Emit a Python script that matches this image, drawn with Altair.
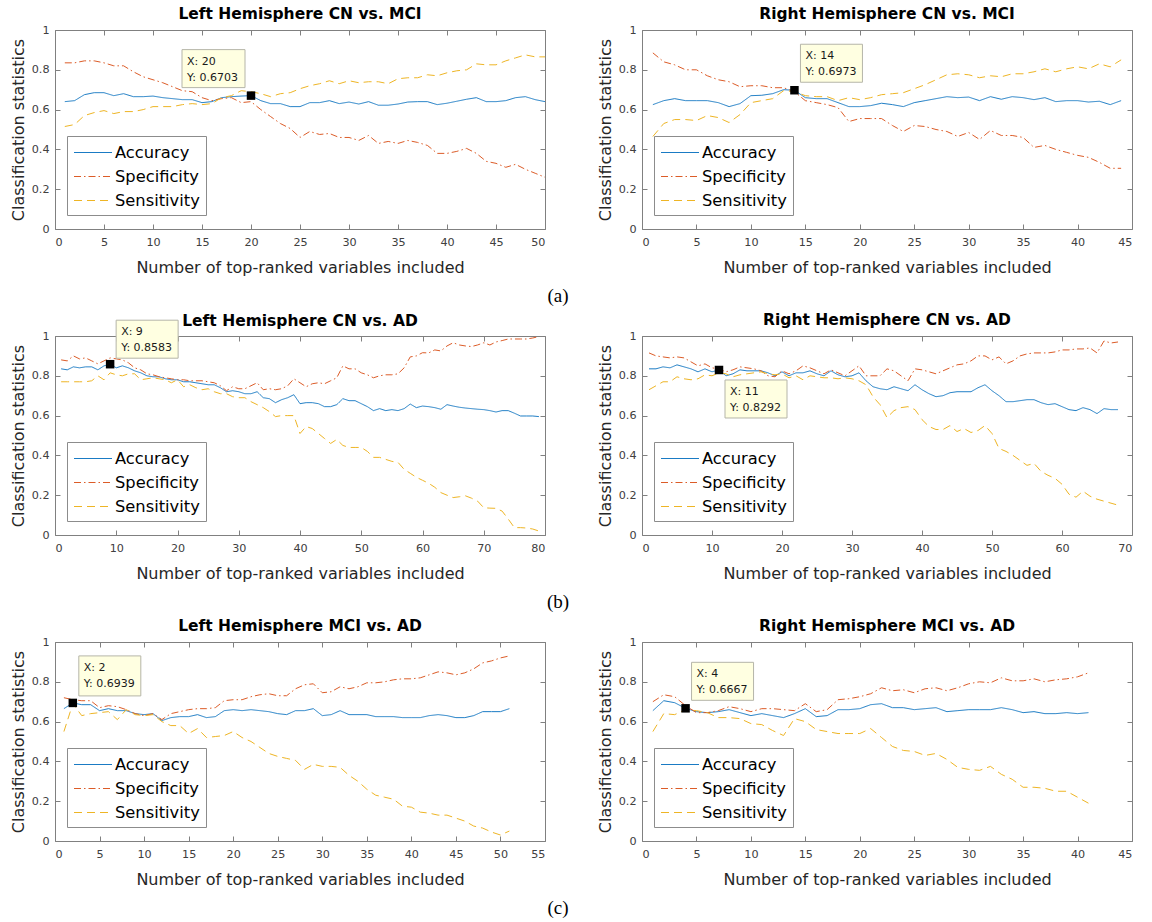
import altair as alt
import pandas as pd

SERIES = ["Accuracy", "Specificity", "Sensitivity"]
COLORS = ["#1a7bc4", "#dc5c28", "#eeb525"]
DASHES = [[1, 0], [7, 3, 1.5, 3], [8, 5]]
YTICKS = [0, 0.2, 0.4, 0.6, 0.8, 1]
XLABEL = "Number of top-ranked variables included"
YLABEL = "Classification statistics"
FONT = "DejaVu Sans"

TITLES = ["Left Hemisphere CN vs. MCI", "Right Hemisphere CN vs. MCI",
          "Left Hemisphere CN vs. AD", "Right Hemisphere CN vs. AD",
          "Left Hemisphere MCI vs. AD", "Right Hemisphere MCI vs. AD"]
CAPTIONS = ["(a)", None, "(b)", None, "(c)", None]
XMAX = [50, 45, 80, 70, 55, 45]
XTICKS = [list(range(0, 51, 5)), list(range(0, 46, 5)), list(range(0, 81, 10)),
          list(range(0, 71, 10)), list(range(0, 56, 5)), list(range(0, 46, 5))]
TIP_X = [20, 14, 9, 11, 2, 4]
TIP_Y = [0.6703, 0.6973, 0.8583, 0.8292, 0.6939, 0.6667]

# ---- (a) left: CN vs MCI, left hemisphere
acc_aL = [0.640, 0.645, 0.675, 0.685, 0.685, 0.670, 0.680, 0.665, 0.665, 0.668,
          0.660, 0.655, 0.650, 0.650, 0.635, 0.640, 0.660, 0.665, 0.668, 0.6703,
          0.645, 0.630, 0.630, 0.615, 0.615, 0.635, 0.635, 0.645, 0.630, 0.638,
          0.628, 0.640, 0.622, 0.622, 0.628, 0.638, 0.640, 0.640, 0.625, 0.632,
          0.642, 0.652, 0.660, 0.640, 0.640, 0.645, 0.660, 0.665, 0.650, 0.640]
spe_aL = [0.835, 0.835, 0.845, 0.845, 0.835, 0.820, 0.820, 0.790, 0.765, 0.750,
          0.735, 0.715, 0.695, 0.690, 0.660, 0.645, 0.655, 0.660, 0.635, 0.640,
          0.600, 0.565, 0.530, 0.505, 0.460, 0.490, 0.475, 0.480, 0.460, 0.460,
          0.445, 0.470, 0.430, 0.440, 0.430, 0.445, 0.435, 0.420, 0.380, 0.380,
          0.390, 0.405, 0.380, 0.340, 0.330, 0.310, 0.325, 0.300, 0.280, 0.260]
sen_aL = [0.515, 0.525, 0.570, 0.585, 0.595, 0.580, 0.590, 0.590, 0.600, 0.615,
          0.615, 0.615, 0.625, 0.630, 0.625, 0.630, 0.660, 0.670, 0.695, 0.690,
          0.680, 0.665, 0.680, 0.685, 0.705, 0.720, 0.730, 0.745, 0.730, 0.745,
          0.735, 0.740, 0.740, 0.730, 0.755, 0.760, 0.760, 0.775, 0.770, 0.785,
          0.795, 0.800, 0.830, 0.825, 0.825, 0.845, 0.860, 0.875, 0.865, 0.865]

# ---- (a) right
acc_aR = [0.625, 0.645, 0.655, 0.645, 0.645, 0.645, 0.635, 0.615, 0.630, 0.670,
          0.672, 0.680, 0.700, 0.6973, 0.660, 0.655, 0.655, 0.635, 0.615, 0.615,
          0.620, 0.632, 0.625, 0.615, 0.635, 0.645, 0.655, 0.665, 0.660, 0.663,
          0.645, 0.665, 0.652, 0.665, 0.660, 0.650, 0.660, 0.640, 0.645, 0.645,
          0.638, 0.642, 0.625, 0.645]
spe_aR = [0.885, 0.840, 0.825, 0.800, 0.800, 0.770, 0.750, 0.740, 0.715, 0.720,
          0.720, 0.710, 0.710, 0.690, 0.645, 0.635, 0.625, 0.610, 0.540, 0.555,
          0.555, 0.555, 0.520, 0.490, 0.520, 0.515, 0.500, 0.490, 0.465, 0.485,
          0.450, 0.495, 0.470, 0.470, 0.460, 0.410, 0.420, 0.400, 0.385, 0.370,
          0.360, 0.335, 0.305, 0.305]
sen_aR = [0.465, 0.530, 0.550, 0.550, 0.545, 0.570, 0.560, 0.535, 0.575, 0.635,
          0.645, 0.655, 0.695, 0.690, 0.670, 0.665, 0.665, 0.645, 0.660, 0.650,
          0.660, 0.675, 0.680, 0.685, 0.705, 0.725, 0.750, 0.775, 0.780, 0.775,
          0.760, 0.770, 0.765, 0.780, 0.780, 0.790, 0.805, 0.790, 0.805, 0.815,
          0.805, 0.830, 0.815, 0.850]

# ---- (b) left
acc_bL = [0.835, 0.830, 0.845, 0.840, 0.845, 0.845, 0.830, 0.850, 0.8583, 0.840,
          0.850, 0.840, 0.825, 0.815, 0.800, 0.795, 0.795, 0.785, 0.780, 0.780,
          0.770, 0.770, 0.765, 0.760, 0.755, 0.755, 0.740, 0.720, 0.725, 0.720,
          0.710, 0.710, 0.720, 0.690, 0.685, 0.665, 0.680, 0.690, 0.705, 0.660,
          0.665, 0.665, 0.660, 0.645, 0.645, 0.655, 0.685, 0.675, 0.675, 0.660,
          0.645, 0.625, 0.635, 0.625, 0.630, 0.625, 0.635, 0.658, 0.640, 0.648,
          0.645, 0.640, 0.632, 0.655, 0.648, 0.642, 0.638, 0.635, 0.632, 0.630,
          0.625, 0.618, 0.625, 0.625, 0.612, 0.598, 0.598, 0.598, 0.595]
spe_bL = [0.880, 0.875, 0.900, 0.885, 0.890, 0.875, 0.860, 0.875, 0.890, 0.885,
          0.880, 0.865, 0.840, 0.830, 0.810, 0.805, 0.795, 0.790, 0.785, 0.780,
          0.780, 0.775, 0.775, 0.775, 0.770, 0.765, 0.750, 0.725, 0.745, 0.735,
          0.735, 0.750, 0.765, 0.730, 0.735, 0.730, 0.735, 0.750, 0.785, 0.765,
          0.745, 0.760, 0.765, 0.760, 0.775, 0.790, 0.850, 0.835, 0.835, 0.815,
          0.805, 0.790, 0.800, 0.805, 0.805, 0.810, 0.840, 0.895, 0.900, 0.916,
          0.915, 0.930, 0.925, 0.950, 0.966, 0.955, 0.950, 0.947, 0.955, 0.966,
          0.955, 0.970, 0.977, 0.985, 0.985, 0.985, 0.985, 0.990, 0.997]
sen_bL = [0.770, 0.770, 0.770, 0.770, 0.770, 0.775, 0.800, 0.780, 0.815, 0.805,
          0.800, 0.810, 0.810, 0.780, 0.785, 0.790, 0.785, 0.780, 0.765, 0.780,
          0.745, 0.755, 0.740, 0.730, 0.735, 0.720, 0.710, 0.710, 0.695, 0.690,
          0.690, 0.670, 0.655, 0.640, 0.620, 0.595, 0.600, 0.600, 0.600, 0.510,
          0.545, 0.535, 0.510, 0.485, 0.460, 0.480, 0.450, 0.440, 0.440, 0.440,
          0.420, 0.390, 0.390, 0.380, 0.370, 0.365, 0.330, 0.310, 0.290, 0.275,
          0.260, 0.240, 0.213, 0.200, 0.188, 0.192, 0.197, 0.185, 0.170, 0.137,
          0.135, 0.134, 0.120, 0.080, 0.037, 0.037, 0.035, 0.030, 0.020]

# ---- (b) right
acc_bR = [0.835, 0.835, 0.845, 0.840, 0.855, 0.845, 0.835, 0.820, 0.835, 0.820,
          0.8292, 0.800, 0.810, 0.830, 0.825, 0.825, 0.825, 0.815, 0.800, 0.820,
          0.800, 0.815, 0.815, 0.825, 0.810, 0.800, 0.825, 0.805, 0.795, 0.800,
          0.815, 0.775, 0.745, 0.735, 0.730, 0.745, 0.735, 0.725, 0.755, 0.730,
          0.710, 0.695, 0.700, 0.715, 0.720, 0.720, 0.720, 0.740, 0.755, 0.725,
          0.700, 0.670, 0.670, 0.675, 0.680, 0.680, 0.665, 0.655, 0.660, 0.645,
          0.630, 0.625, 0.640, 0.630, 0.610, 0.635, 0.630, 0.630]
spe_bR = [0.915, 0.900, 0.895, 0.890, 0.895, 0.890, 0.870, 0.850, 0.860, 0.840,
          0.835, 0.820, 0.830, 0.845, 0.840, 0.835, 0.825, 0.800, 0.795, 0.825,
          0.810, 0.825, 0.850, 0.840, 0.825, 0.810, 0.830, 0.815, 0.800, 0.825,
          0.850, 0.800, 0.800, 0.800, 0.835, 0.825, 0.800, 0.775, 0.835, 0.830,
          0.820, 0.810, 0.825, 0.840, 0.855, 0.860, 0.875, 0.900, 0.900, 0.880,
          0.895, 0.860, 0.875, 0.900, 0.910, 0.915, 0.915, 0.915, 0.920, 0.930,
          0.930, 0.935, 0.935, 0.940, 0.915, 0.975, 0.965, 0.970]
sen_bR = [0.730, 0.750, 0.770, 0.770, 0.795, 0.785, 0.780, 0.785, 0.805, 0.800,
          0.815, 0.810, 0.795, 0.805, 0.810, 0.815, 0.820, 0.810, 0.805, 0.810,
          0.790, 0.800, 0.780, 0.800, 0.795, 0.790, 0.790, 0.785, 0.790, 0.785,
          0.775, 0.755, 0.695, 0.655, 0.590, 0.625, 0.640, 0.645, 0.630, 0.580,
          0.545, 0.530, 0.530, 0.550, 0.520, 0.535, 0.515, 0.525, 0.550, 0.510,
          0.435, 0.420, 0.400, 0.375, 0.350, 0.360, 0.320, 0.300, 0.285, 0.255,
          0.205, 0.190, 0.220, 0.195, 0.180, 0.170, 0.160, 0.150]

# ---- (c) left
acc_cL = [0.665, 0.6939, 0.685, 0.685, 0.655, 0.665, 0.655, 0.655, 0.640, 0.635,
          0.640, 0.605, 0.620, 0.625, 0.625, 0.635, 0.620, 0.625, 0.655, 0.660,
          0.655, 0.660, 0.655, 0.650, 0.640, 0.635, 0.655, 0.655, 0.665, 0.630,
          0.635, 0.655, 0.635, 0.635, 0.635, 0.625, 0.625, 0.625, 0.620, 0.620,
          0.620, 0.630, 0.635, 0.630, 0.620, 0.620, 0.630, 0.650, 0.650, 0.650,
          0.665]
spe_cL = [0.720, 0.710, 0.705, 0.705, 0.670, 0.680, 0.675, 0.660, 0.640, 0.630,
          0.640, 0.610, 0.640, 0.650, 0.660, 0.665, 0.665, 0.670, 0.705, 0.710,
          0.710, 0.725, 0.735, 0.740, 0.730, 0.730, 0.765, 0.785, 0.790, 0.745,
          0.750, 0.775, 0.765, 0.775, 0.795, 0.795, 0.800, 0.810, 0.815, 0.815,
          0.820, 0.835, 0.850, 0.845, 0.835, 0.845, 0.865, 0.895, 0.905, 0.920,
          0.930]
sen_cL = [0.550, 0.690, 0.630, 0.640, 0.645, 0.650, 0.610, 0.660, 0.635, 0.630,
          0.635, 0.600, 0.580, 0.580, 0.540, 0.565, 0.520, 0.525, 0.530, 0.550,
          0.520, 0.500, 0.470, 0.440, 0.425, 0.415, 0.405, 0.360, 0.385, 0.375,
          0.375, 0.370, 0.330, 0.300, 0.260, 0.230, 0.220, 0.210, 0.175, 0.170,
          0.145, 0.140, 0.130, 0.130, 0.115, 0.100, 0.075, 0.065, 0.045, 0.030,
          0.050]

# ---- (c) right
acc_cR = [0.655, 0.705, 0.695, 0.6667, 0.650, 0.645, 0.650, 0.660, 0.645, 0.630,
          0.640, 0.630, 0.620, 0.640, 0.665, 0.625, 0.630, 0.660, 0.660, 0.665,
          0.685, 0.690, 0.670, 0.670, 0.660, 0.665, 0.670, 0.650, 0.655, 0.660,
          0.660, 0.660, 0.670, 0.660, 0.645, 0.650, 0.640, 0.640, 0.645, 0.640,
          0.645]
spe_cR = [0.700, 0.735, 0.725, 0.680, 0.645, 0.645, 0.655, 0.675, 0.665, 0.650,
          0.665, 0.665, 0.660, 0.655, 0.690, 0.650, 0.660, 0.710, 0.715, 0.725,
          0.740, 0.770, 0.755, 0.760, 0.745, 0.765, 0.770, 0.755, 0.770, 0.790,
          0.800, 0.795, 0.820, 0.805, 0.805, 0.815, 0.800, 0.810, 0.815, 0.825,
          0.845]
sen_cR = [0.550, 0.640, 0.635, 0.660, 0.655, 0.645, 0.620, 0.620, 0.615, 0.590,
          0.585, 0.555, 0.530, 0.615, 0.600, 0.560, 0.550, 0.540, 0.540, 0.540,
          0.565, 0.520, 0.475, 0.455, 0.450, 0.430, 0.440, 0.410, 0.370, 0.360,
          0.355, 0.375, 0.335, 0.310, 0.270, 0.270, 0.265, 0.250, 0.250, 0.220,
          0.190]

DATA = [(acc_aL, spe_aL, sen_aL), (acc_aR, spe_aR, sen_aR),
        (acc_bL, spe_bL, sen_bL), (acc_bR, spe_bR, sen_bR),
        (acc_cL, spe_cL, sen_cL), (acc_cR, spe_cR, sen_cR)]

# layout / style (pixels)
W, H = 490, 199
TIP_BOX = [(-69, -6, -46, -8), (6, 68, -46, -8), (6, 68, -44, -6),
           (6, 68, 10, 48), (6, 68, -47, -7), (6, 68, -46, -8)]
CAP_X, CAP_Y = 503, 266
TITLE_OFFSETS = [-10, -10, -22, -10, -10, -10]


def panel(i):
    acc, spe, sen = DATA[i]
    n = len(acc)
    df = pd.DataFrame({
        "x": list(range(1, n + 1)) * 3,
        "value": acc + spe + sen,
        "series": [s for s in SERIES for _ in range(n)],
    })
    xsc = alt.Scale(domain=[0, XMAX[i]], nice=False, zero=False)
    ysc = alt.Scale(domain=[0, 1], nice=False)
    xt = XTICKS[i]
    legend = alt.Legend(title=None, orient="none", legendX=12, legendY=106,
                        symbolType="M-1,0H3", symbolSize=361, symbolStrokeWidth=1.2,
                        labelFont=FONT, labelFontSize=16.3, labelColor="#000000",
                        labelOffset=21, padding=6, rowPadding=5,
                        strokeColor="#8c8c8c", fillColor="#ffffff", cornerRadius=0)
    lines = alt.Chart(df).mark_line(strokeWidth=1.0).encode(
        x=alt.X("x:Q", scale=xsc,
                axis=alt.Axis(title=XLABEL, values=xt, ticks=False, domain=False,
                              labelPadding=7, titlePadding=12, format="d")),
        y=alt.Y("value:Q", scale=ysc,
                axis=alt.Axis(title=YLABEL, values=YTICKS, ticks=False, domain=False,
                              labelPadding=6, titlePadding=5, format="~g")),
        color=alt.Color("series:N", scale=alt.Scale(domain=SERIES, range=COLORS), legend=legend),
        strokeDash=alt.StrokeDash("series:N", scale=alt.Scale(domain=SERIES, range=DASHES), legend=legend),
    )
    tip = pd.DataFrame({"x": [TIP_X[i]], "y": [TIP_Y[i]],
                        "label": [f"X: {TIP_X[i]}\nY: {TIP_Y[i]}"]})
    bx = TIP_BOX[i]
    tick_axis = dict(labels=False, domain=False, ticks=True, tickSize=5,
                     title=None, grid=False, tickColor="#808080")
    rect = alt.Chart(tip).mark_rect(
        fill="#FFFFE1", stroke="#b5b5a8", strokeWidth=1,
        xOffset=bx[0], x2Offset=bx[1], yOffset=bx[2], y2Offset=bx[3]
    ).encode(
        x=alt.X("x:Q", scale=xsc, axis=alt.Axis(orient="top", offset=-H, values=xt, **tick_axis)),
        x2=alt.X2("x"),
        y=alt.Y("y:Q", scale=ysc, axis=alt.Axis(orient="right", offset=-W, values=YTICKS, **tick_axis)),
        y2=alt.Y2("y"),
    )
    text = alt.Chart(tip).mark_text(
        align="left", baseline="middle", dx=bx[0] + 5, dy=bx[2] + 12,
        lineBreak="\n", lineHeight=16, font=FONT, fontSize=11, color="#1a1a1a"
    ).encode(
        x=alt.X("x:Q", scale=xsc, axis=alt.Axis(orient="bottom", offset=-H, values=xt, **tick_axis)),
        y=alt.Y("y:Q", scale=ysc, axis=alt.Axis(orient="left", offset=-W, values=YTICKS, **tick_axis)),
        text="label:N",
    )
    square = alt.Chart(tip).mark_square(size=72, color="#000000", filled=True, opacity=1).encode(
        x=alt.X("x:Q", scale=xsc, axis=None),
        y=alt.Y("y:Q", scale=ysc, axis=None),
    )
    layers = [lines, rect, text, square]
    if CAPTIONS[i]:
        cap = alt.Chart(pd.DataFrame({"t": [CAPTIONS[i]]})).mark_text(
            font="Liberation Serif", fontSize=19, align="center", baseline="middle", color="#000000"
        ).encode(text="t:N", x=alt.value(CAP_X), y=alt.value(CAP_Y))
        layers.append(cap)
    return alt.layer(*layers).resolve_axis(x="independent", y="independent").properties(
        width=W, height=H,
        title=alt.Title(TITLES[i], offset=TITLE_OFFSETS[i], baseline="alphabetic",
                        frame="group", anchor="middle"),
    )


chart = alt.concat(*[panel(i) for i in range(6)], columns=2,
                   spacing={"row": 107, "column": 97}, bounds="flush").resolve_scale(
    color="independent", strokeDash="independent"
).properties(
    padding={"left": 9, "top": 6, "right": 10, "bottom": 10},
    background="#ffffff",
).configure_view(stroke="#808080", strokeWidth=1).configure_axis(
    labelFont=FONT, labelFontSize=11.2, labelColor="#404040",
    titleFont=FONT, titleFontSize=16, titleFontWeight="normal", titleColor="#262626",
    grid=False,
).configure_title(font=FONT, fontSize=15.5, fontWeight="bold", color="#000000")

chart.save("out.html", embed_options={"renderer": "svg", "actions": False})
